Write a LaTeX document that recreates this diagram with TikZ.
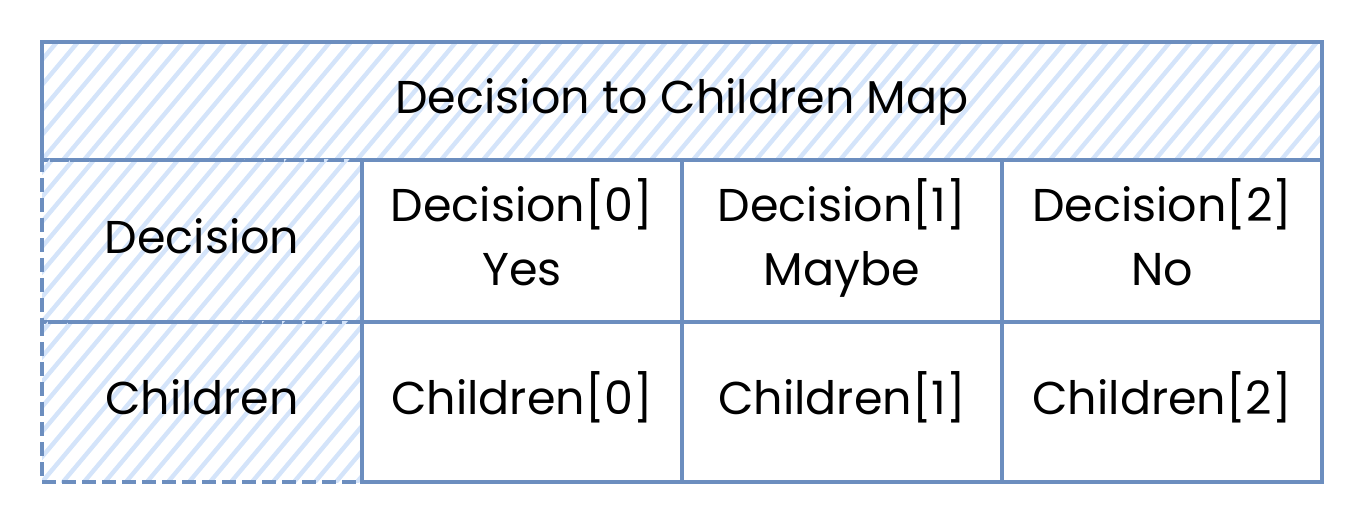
\documentclass[tikz,border=0pt]{standalone}
\usepackage{fontspec}
\setmainfont{Poppins}
\usetikzlibrary{calc}

\definecolor{edgeblue}{HTML}{6C8EBF}
\definecolor{hatchblue}{HTML}{D4E4FA}

\tikzset{
  hatchline/.style={draw=hatchblue, solid, line width=2.2pt, line cap=round},
  hatched/.style={path picture={
    \foreach \k in {-210,-199.5,...,660}
      \draw[hatchline] ([xshift=\k pt]path picture bounding box.south west) -- ++(50:300pt);
  }},
  cell/.style={draw=edgeblue, line width=2pt, minimum width=160pt, minimum height=81pt,
    align=center, inner sep=0pt, font=\fontsize{23}{32}\selectfont},
  keycell/.style={cell, hatched, dash pattern=on 7pt off 3pt},
  head/.style={cell, hatched, minimum width=640pt, minimum height=59pt}
}

\begin{document}
\begin{tikzpicture}[x=1pt, y=1pt]
\useasboundingbox (0,0) rectangle (684,262);

\node[head] (map) at (341,211.5) {\strut Decision to Children Map};

\node[keycell] (dec) at ($(map) + (-240, -70)$) {\strut Decision};
\node[keycell, minimum height=80pt] (chi) at ($(map) + (-240, -150.5)$) {\strut Children};

\node[cell] (dec0) at ($(dec) + (160, 0)$) {\strut Decision[0]\\\strut Yes};
\node[cell] (dec1) at ($(dec) + (320, 0)$) {\strut Decision[1]\\\strut Maybe};
\node[cell] (dec2) at ($(dec) + (480, 0)$) {\strut Decision[2]\\\strut No};

\node[cell, minimum height=80pt] (chi0) at ($(chi) + (160, 0)$) {\strut Children[0]};
\node[cell, minimum height=80pt] (chi1) at ($(chi) + (320, 0)$) {\strut Children[1]};
\node[cell, minimum height=80pt] (chi2) at ($(chi) + (480, 0)$) {\strut Children[2]};

\end{tikzpicture}
\end{document}
